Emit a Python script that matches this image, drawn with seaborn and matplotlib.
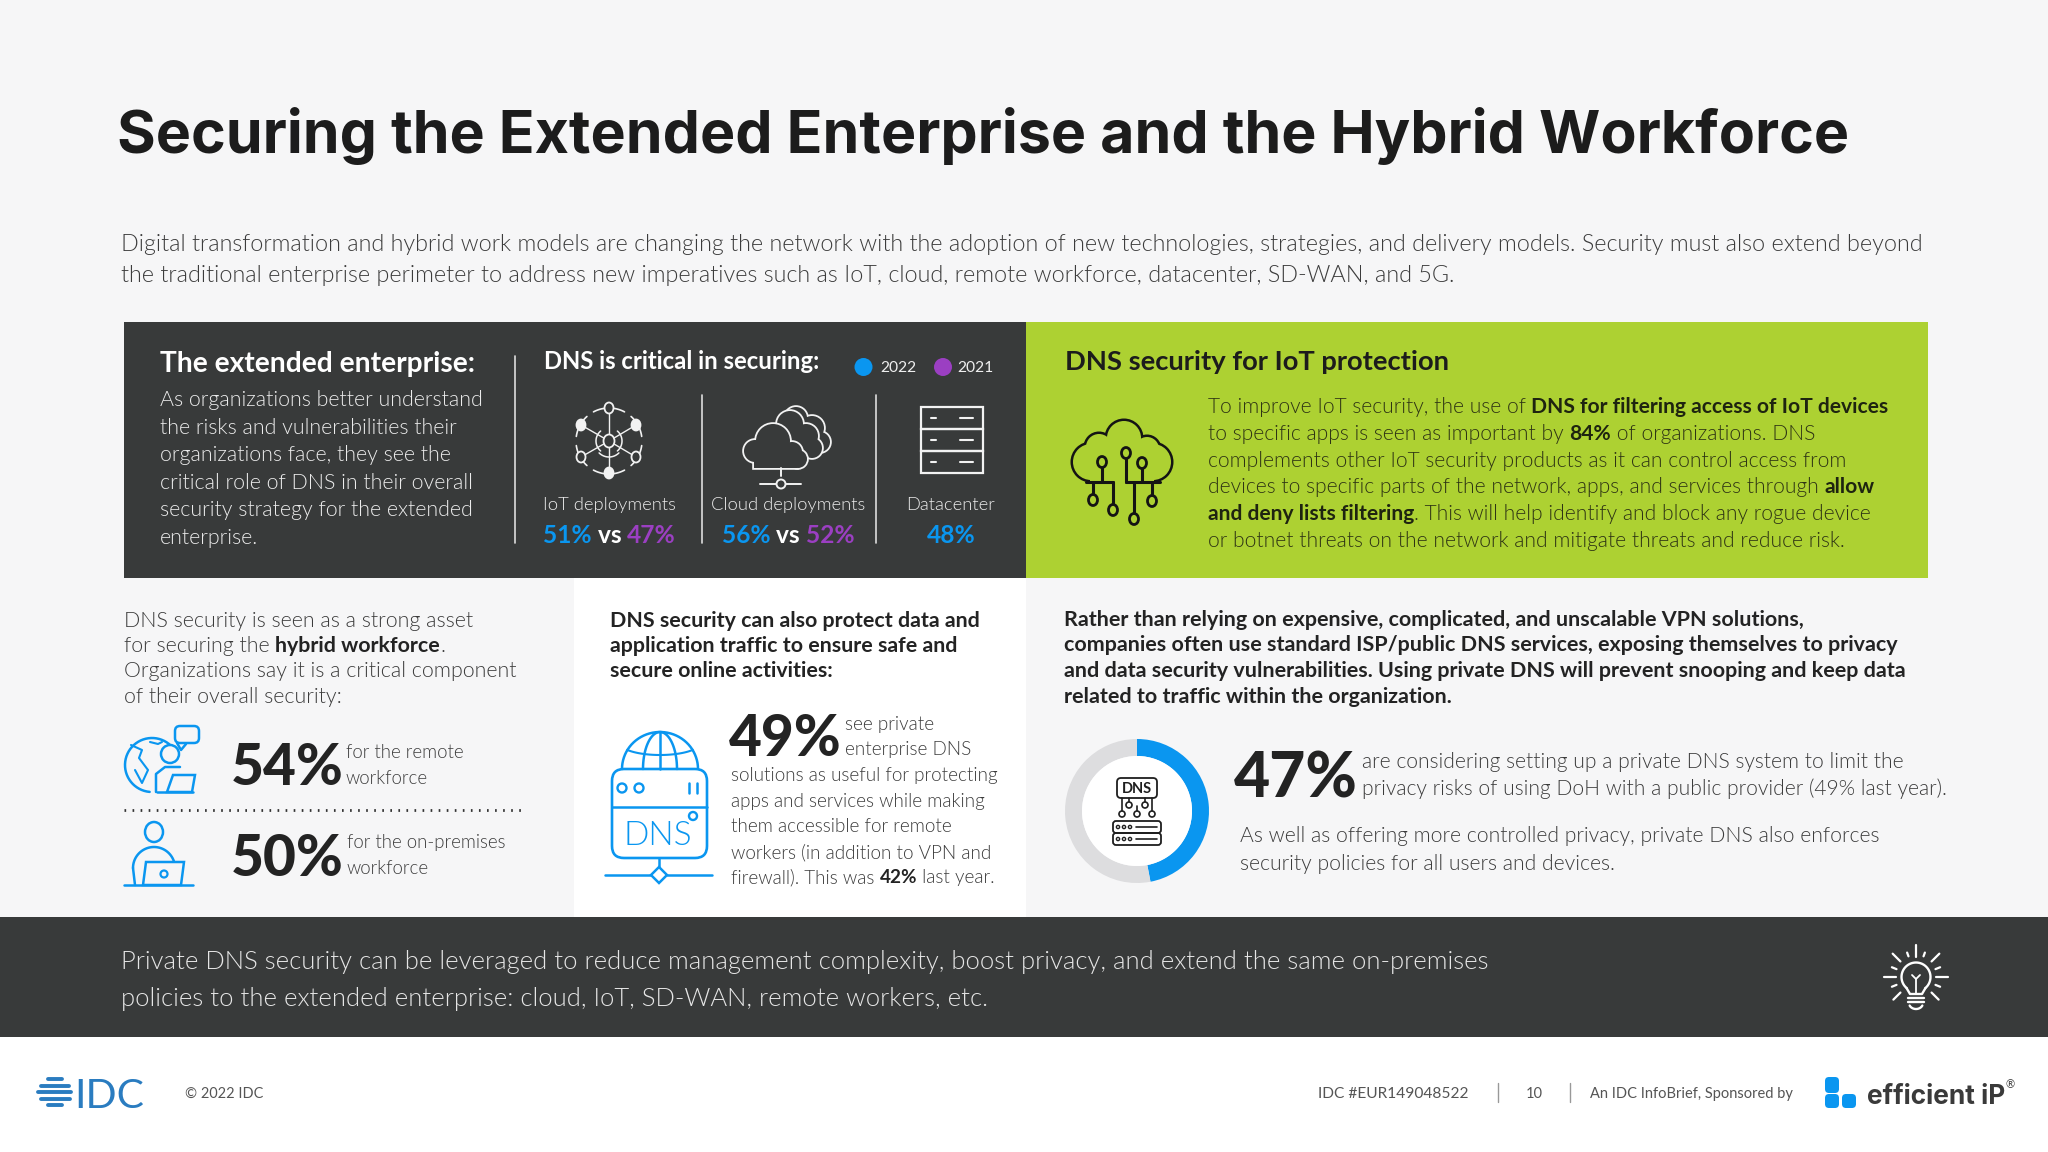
import numpy as np
import seaborn as sns
import matplotlib
matplotlib.use('Agg')
import matplotlib.pyplot as plt
from matplotlib.patches import Circle, Rectangle, FancyBboxPatch, Polygon, Ellipse

W, H = 2048, 1152

# --- Data ---
TITLE = 'Securing the Extended Enterprise and the Hybrid Workforce'
INTRO = ['Digital transformation and hybrid work models are changing the network with the adoption of new technologies, strategies, and delivery models. Security must also extend beyond',
         'the traditional enterprise perimeter to address new imperatives such as IoT, cloud, remote workforce, datacenter, SD-WAN, and 5G.']
ENTERPRISE = ['As organizations better understand', 'the risks and vulnerabilities their', 'organizations face, they see the',
              'critical role of DNS in their overall', 'security strategy for the extended', 'enterprise.']
CATEGORIES = ['IoT deployments', 'Cloud deployments', 'Datacenter']
VALUES_2022 = [51, 56, 48]
VALUES_2021 = [47, 52, None]
HYBRID = ['DNS security is seen as a strong asset', 'for securing the |hybrid workforce|.',
          'Organizations say it is a critical component', 'of their overall security:']
PROTECT = ['DNS security can also protect data and', 'application traffic to ensure safe and', 'secure online activities:']
P49 = ['solutions as useful for protecting', 'apps and services while making', 'them accessible for remote',
       'workers (in addition to VPN and', 'firewall). This was |42%| last year.']
VPN = ['Rather than relying on expensive, complicated, and unscalable VPN solutions,',
       'companies often use standard ISP/public DNS services, exposing themselves to privacy',
       'and data security vulnerabilities. Using private DNS will prevent snooping and keep data',
       'related to traffic within the organization.']
IOT = ['To improve IoT security, the use of |DNS for filtering access of IoT devices|',
       'to specific apps is seen as important by |84%| of organizations. DNS',
       'complements other IoT security products as it can control access from',
       'devices to specific parts of the network, apps, and services through |allow|',
       '|and deny lists filtering|. This will help identify and block any rogue device',
       'or botnet threats on the network and mitigate threats and reduce risk.']
BAND = ['Private DNS security can be leveraged to reduce management complexity, boost privacy, and extend the same on-premises',
        'policies to the extended enterprise: cloud, IoT, SD-WAN, remote workers, etc.']
donut_labels = ['considering', 'other']
donut_values = [47, 53]

BG = '#f6f6f7'
DARK = '#383a3a'
GREEN = '#add132'
BLUE = '#0a96f0'
PURPLE = '#9b3fc2'
INK = '#232323'
GREY = '#3c3c3c'
LIGHT = 300
HEAVY_FONT = ['Inter', 'Lato', 'DejaVu Sans']

sns.set_theme(style='white')
plt.rcParams['font.family'] = ['Lato', 'DejaVu Sans']

fig = plt.figure(figsize=(W / 100, H / 100), dpi=100, facecolor='white')
ax = fig.add_axes([0, 0, 1, 1])
ax.set_xlim(0, W)
ax.set_ylim(H, 0)
ax.axis('off')
renderer = fig.canvas.get_renderer()


def adv(s, size, weight, family=None):
    # advance width incl. spaces at the ends
    a = ax.text(0, 0, 'x' + s + 'x', fontsize=size, fontweight=weight, family=family)
    b = ax.text(0, 0, 'xx', fontsize=size, fontweight=weight, family=family)
    w = a.get_window_extent(renderer).width - b.get_window_extent(renderer).width
    a.remove()
    b.remove()
    return w


def fit(s, width, weight=LIGHT, family=None):
    return 20 * width / adv(s.replace('|', ''), 20, weight, family)


def T(x, y, s, size, color=GREY, weight=LIGHT, ha='left', target=None, family=None):
    return (target or ax).text(x, y, s, fontsize=size, color=color, fontweight=weight, ha=ha, va='baseline', family=family)


def rich(x, y, s, size, color=GREY, bold=INK, weight=LIGHT, bweight='bold'):
    # | toggles bold inside a line
    for i, part in enumerate(s.split('|')):
        if not part:
            continue
        w = bweight if i % 2 else weight
        T(x, y, part, size, bold if i % 2 else color, w)
        x += adv(part, size, w)


def rect(x0, y0, x1, y1, c, z=0):
    ax.add_patch(Rectangle((x0, y0), x1 - x0, y1 - y0, fc=c, ec='none', zorder=z))


def line(xs, ys, c, lw=1.8, target=None, **kw):
    (target or ax).plot(xs, ys, color=c, lw=lw, solid_capstyle='round', zorder=3, **kw)


def ring(x, y, r, c, lw=1.8, fc='none', target=None):
    (target or ax).add_patch(Circle((x, y), r, fc=fc, ec=c, lw=lw, zorder=4))


def arc(cx, cy, rx, ry, a0, a1, c, lw=1.8, target=None):
    t = np.radians(np.linspace(a0, a1, 40))
    line(cx + rx * np.cos(t), cy - ry * np.sin(t), c, lw, target)


def box(x0, y0, x1, y1, c, lw=1.8, pad=6, fc='none', target=None):
    (target or ax).add_patch(FancyBboxPatch((x0 + pad, y0 + pad), x1 - x0 - 2 * pad, y1 - y0 - 2 * pad,
                                            boxstyle=f'round,pad={pad}', fc=fc, ec=c, lw=lw, zorder=4))


def cloud(circles, base, edge, fill, lw=3.4, z=2):
    # outline of a union of circles: stroked shapes with filled copies on top
    x0, y0, x1, y1 = base
    for cx, cy, r in circles:
        ax.add_patch(Circle((cx, cy), r, fc=edge, ec=edge, lw=lw, zorder=z))
    ax.add_patch(Rectangle((x0, y0), x1 - x0, y1 - y0, fc=edge, ec=edge, lw=lw, zorder=z))
    for cx, cy, r in circles:
        ax.add_patch(Circle((cx, cy), r, fc=fill, ec='none', zorder=z + .1))
    ax.add_patch(Rectangle((x0, y0), x1 - x0, y1 - y0, fc=fill, ec='none', zorder=z + .1))


# --- Panels ---
rect(0, 0, W, 1037, BG)
rect(574, 578, 1026, 917, 'white')
rect(124, 322, 1026, 578, DARK)
rect(1026, 322, 1928, 578, GREEN)
rect(0, 917, W, 1037, DARK)

# --- Header ---
T(117, 153, TITLE, fit(TITLE, 1734, 'bold', HEAVY_FONT), '#1c1c1c', 'bold', family=HEAVY_FONT)
s = fit(INTRO[0], 1806)
T(121, 251, INTRO[0], s)
T(121, 282, INTRO[1], s)

# --- Dark panel ---
T(160, 372, 'The extended enterprise:', fit('The extended enterprise:', 315, 'bold'), 'white', 'bold')
s = fit(ENTERPRISE[0], 324)
for i, t in enumerate(ENTERPRISE):
    T(160, 406 + i * 27.6, t, s, '#ececec')
line([515, 515], [356, 543], '#dddddd', 1.2)
line([702, 702], [395, 543], '#dddddd', 1.2)
line([876, 876], [395, 543], '#dddddd', 1.2)
T(544, 369, 'DNS is critical in securing:', fit('DNS is critical in securing:', 276, 'bold'), 'white', 'bold')
s = fit('2022', 36, 'regular')
ax.add_patch(Circle((863.5, 367), 9, fc=BLUE, ec='none'))
T(880, 372, '2022', s, '#eeeeee', 'regular')
ax.add_patch(Circle((943, 367), 9, fc=PURPLE, ec='none'))
T(957, 372, '2021', s, '#eeeeee', 'regular')

s = fit(CATEGORIES[1], 154)
s2 = fit('51% vs 47%', 133, 'bold')
for cx, name, a, b in zip([609.5, 788, 951], CATEGORIES, VALUES_2022, VALUES_2021):
    T(cx, 510, name, s, '#ececec', ha='center')
    if b is None:
        T(cx, 543, f'{a}%', s2, BLUE, 'bold', ha='center')
    else:
        parts = [(f'{a}%', BLUE), (' vs ', 'white'), (f'{b}%', PURPLE)]
        x = cx - sum(adv(p, s2, 'bold') for p, _ in parts) / 2
        for p, c in parts:
            T(x, 543, p, s2, c, 'bold')
            x += adv(p, s2, 'bold')

# IoT icon
c = '#f2f2f2'
cx, cy = 609, 441
for a0, a1 in [(62, 84), (96, 118), (8, 48), (-48, -8), (-84, -62), (-118, -96), (132, 172), (188, 228)]:
    arc(cx, cy, 33, 33, a0, a1, c, 1.2)
for x, y, filled in [(609, 408, False), (609, 473, True), (581, 425, True), (636, 425, True), (581, 457, False), (636, 457, False)]:
    line([cx, x], [cy, y], c, 1.0)
    ax.add_patch(Ellipse((x, y), 9, 11, fc=c if filled else DARK, ec=c, lw=1.3, zorder=4))
ax.add_patch(Ellipse((cx, cy), 11, 13, fc=DARK, ec=c, lw=1.3, zorder=4))
arc(cx, cy, 13, 13, 130, 230, c, 1.1)
arc(cx, cy, 13, 13, -50, 50, c, 1.1)
arc(cx, cy + 2, 14, 14, 225, 315, c, 1.1)

# Cloud deployment icon
cloud([(796, 418, 11), (812, 428, 12), (820, 442, 10)], (786, 420, 816, 450), c, DARK, 2.6, 2)
cloud([(790, 424, 13), (806, 436, 12), (812, 448, 10)], (780, 430, 808, 455), c, DARK, 2.6, 2.3)
cloud([(755, 451, 11), (773, 441, 17), (792, 452, 10), (798, 459, 9)], (754, 450, 797, 468), c, DARK, 2.6, 2.6)
line([781, 781], [468, 476], c, 1.4)
line([760, 801], [484, 484], c, 1.4)
ring(781, 484, 4.5, c, 1.4, DARK)

# Datacenter icon
for y0 in [407, 429, 451]:
    ax.add_patch(Rectangle((921, y0), 62, 22, fc='none', ec=c, lw=1.6))
    line([931, 936], [y0 + 11, y0 + 11], c, 1.5)
    line([960, 973], [y0 + 11, y0 + 11], c, 1.5)

# --- Green panel ---
t = 'DNS security for IoT protection'
T(1065, 370, t, fit(t, 384, 'bold'), '#1c1c1c', 'bold')
s = fit(IOT[2], 638)
for y, t in zip([413, 440, 467, 493, 520, 547], IOT):
    rich(1207.6, y, t, s, '#2e3414', '#1e2410', bweight='bold')

k = '#141414'
cloud([(1091, 462, 18), (1099, 447, 13), (1124, 438, 17), (1147, 449, 12), (1153, 462, 18)], (1090, 445, 1154, 481), k, GREEN, 3.6)
rect(1093, 470, 1152, 486, GREEN, 2.2)
for xs, ys in [([1086, 1113], [482, 482]), ([1126, 1134], [482, 482]), ([1134, 1160], [482, 482]), ([1102, 1102], [467, 482]),
               ([1113, 1113], [482, 505]), ([1093, 1093], [482, 495]), ([1126, 1126], [458, 482]),
               ([1134, 1134], [482, 514]), ([1142, 1142], [468, 482]), ([1152, 1152], [482, 496])]:
    line(xs, ys, k, 2.2)
for x, y in [(1102, 462), (1126, 453), (1142, 463), (1093, 500), (1113, 510), (1134, 519), (1152, 501)]:
    ax.add_patch(Ellipse((x, y), 9, 11, fc=GREEN, ec=k, lw=2, zorder=4))

# --- Hybrid workforce column ---
s = fit(HYBRID[2], 392)
for y, t in zip([627, 652, 677, 703], HYBRID):
    rich(124, y, t, s)
size_big = fit('54%', 113, 'black')
s = fit('for the remote', 118)
T(231, 785, '54%', size_big, INK, 'black')
T(346, 758, 'for the remote', s)
T(346, 784, 'workforce', s)
ax.plot([124, 522], [810, 810], color='#333333', lw=2, ls=(0, (0.6, 2.3)))
T(231, 876, '50%', size_big, INK, 'black')
T(347, 848, 'for the on-premises', s)
T(347, 874, 'workforce', s)

# globe + person icon
b = BLUE
arc(152, 765, 27, 27, 40, 265, b)
line([131, 142, 139, 148, 142, 135], [745, 750, 758, 770, 783, 770], b, 1.5)
line([150, 158, 162], [742, 744, 742], b, 1.5)
box(175, 726, 199, 743, b, pad=5)
line([177, 181, 186], [743, 750, 744], b)
ring(170, 754, 9, b, 1.8, BG)
line([156, 156, 165, 180], [792, 774, 767, 767], b)
line([157, 193], [792, 792], b)
ax.add_patch(Polygon([[173, 775], [195, 775], [192, 792], [167, 792]], fc=BG, ec=b, lw=1.8, zorder=4))

# person at laptop icon
ax.add_patch(Ellipse((154, 832), 18, 20, fc='none', ec=b, lw=1.8))
line([124, 193], [885, 885], b)
arc(154, 868, 21, 21, 0, 180, b)
line([133, 135], [868, 885], b)
ax.add_patch(Polygon([[146, 862], [184, 862], [181, 885], [143, 885]], fc=BG, ec=b, lw=1.8, zorder=4))
ring(164, 874, 3.5, b, 1.6)

# --- Private DNS column ---
s = fit(PROTECT[0], 370, 'bold')
for y, t in zip([627, 652, 677], PROTECT):
    T(610, y, t, s, INK, 'bold')
T(729, 756, '49%', size_big, INK, 'black')
s = fit(P49[0], 268)
T(845, 730, 'see private', s)
T(845, 755, 'enterprise DNS', s)
for y, t in zip([781, 807, 832, 858, 883], P49):
    rich(731, y, t, s)

# DNS box icon
box(612, 769, 707, 858, b, 1.9, pad=12)
line([612, 707], [807, 807], b)
arc(660, 769, 38, 37, 0, 180, b)
arc(660, 769, 17, 37, 0, 180, b)
line([660, 660], [732, 769], b)
arc(660, 743, 40, 12, 215, 325, b, 1.5)
ring(622, 788, 4.5, b, 1.7)
ring(639, 788, 4.5, b, 1.7)
line([689, 689], [783, 793], b)
line([697, 697], [783, 793], b)
ring(693, 816, 4, b, 1.7)
T(658, 845, 'DNS', 24, b, LIGHT, ha='center')
line([659, 659], [858, 868], b)
line([605, 651], [875, 875], b)
line([667, 712], [875, 875], b)
ax.add_patch(Polygon([[659, 867], [667, 875], [659, 883], [651, 875]], fc='white', ec=b, lw=1.8, zorder=4))

# --- VPN column ---
s = fit(VPN[2], 840, 'bold')
for y, t in zip([626, 651, 677, 703], VPN):
    T(1064, y, t, s, INK, 'bold')
T(1234, 798, '47%', fit('47%', 124, 'black'), INK, 'black')
s = fit('privacy risks of using DoH with a public provider (49% last year).', 582)
T(1362, 768, 'are considering setting up a private DNS system to limit the', s)
T(1362, 795, 'privacy risks of using DoH with a public provider (49% last year).', s)
s = fit('As well as offering more controlled privacy, private DNS also enforces', 640)
T(1240, 842, 'As well as offering more controlled privacy, private DNS also enforces', s)
T(1240, 870, 'security policies for all users and devices.', s)

# --- Bottom band ---
s = fit(BAND[0], 1360)
T(121, 969, BAND[0], s, '#e6e6e6')
T(121, 1006, BAND[1], s, '#e6e6e6')
c = 'white'
cx, cy = 1916, 977
arc(cx, cy, 14.5, 14.5, -50, 230, c, 1.7)
line([cx - 9.5, cx - 6, cx + 6, cx + 9.5], [cy + 11, cy + 17, cy + 17, cy + 11], c, 1.7)
line([cx, cx, cx - 4], [cy + 17, cy + 2, cy - 2], c, 1.3)
line([cx, cx + 4], [cy + 2, cy - 2], c, 1.3)
line([cx - 8, cx + 8], [cy + 21, cy + 21], c, 1.7)
line([cx - 8, cx + 8], [cy + 25, cy + 25], c, 1.7)
arc(cx, cy + 26, 7, 6, 205, 335, c, 1.7)
for a, r0, r1 in [(90, 20, 32), (70, 22, 26), (110, 22, 26), (45, 22, 33), (135, 22, 33), (22, 21, 26), (158, 21, 26),
                  (0, 20, 32), (180, 20, 32), (-22, 21, 26), (202, 21, 26), (-45, 22, 32), (225, 22, 32)]:
    ca, sa = np.cos(np.radians(a)), np.sin(np.radians(a))
    line([cx + r0 * ca, cx + r1 * ca], [cy - r0 * sa, cy - r1 * sa], c, 1.6)

# --- Footer ---
idc = '#2a7cc0'
for y, x0, x1 in [(1079, 48, 62), (1086, 41, 69), (1092, 38, 71), (1099, 41, 70), (1105, 48, 62)]:
    line([x0, x1], [y, y], idc, 2.8)
T(74, 1108, 'IDC', fit('IDC', 70, 'regular'), idc, 'regular')
T(185, 1098, '© 2022 IDC', fit('© 2022 IDC', 78, 'regular'), '#555555', 'regular')
T(1318, 1098, 'IDC #EUR149048522', fit('IDC #EUR149048522', 151, 'regular'), '#555555', 'regular')
T(1534, 1098, '10', 10.5, '#555555', 'regular', ha='center')
T(1590, 1098, 'An IDC InfoBrief, Sponsored by', fit('An IDC InfoBrief, Sponsored by', 203, 'regular'), '#555555', 'regular')
line([1498, 1498], [1083, 1102], '#999999', 1)
line([1570, 1570], [1083, 1102], '#999999', 1)
for x0, y0, x1, y1 in [(1825, 1077, 1839, 1093), (1825, 1094, 1839, 1108), (1842, 1094, 1856, 1108)]:
    ax.add_patch(FancyBboxPatch((x0 + 4, y0 + 4), x1 - x0 - 8, y1 - y0 - 8, boxstyle='round,pad=4', fc=BLUE, ec='none'))
T(1867, 1104, 'efficient iP', fit('efficient iP', 138, 'bold', HEAVY_FONT), '#3a3a3a', 'bold', family=HEAVY_FONT)
T(2005, 1088, '®', 8, '#3a3a3a', 'regular')

# --- Donut ---
colors = sns.color_palette([BLUE, '#dddddf'])
R = 72
dax = fig.add_axes([(1137 - R) / W, 1 - (811 + R) / H, 2 * R / W, 2 * R / H], zorder=2)
dax.pie(donut_values, colors=colors, startangle=90, counterclock=False, radius=1,
        wedgeprops={'width': 17 / R, 'linewidth': 0})
dax.add_patch(Circle((0, 0), 55 / R, fc='white', ec='none'))
dax.set_xlim(-1, 1)
dax.set_ylim(-1, 1)

# DNS server icon sits on top of the donut
over = fig.add_axes([0, 0, 1, 1], zorder=3)
over.set_xlim(0, W)
over.set_ylim(H, 0)
over.axis('off')
over.patch.set_alpha(0)
k = '#1e1e1e'
box(1117, 778, 1157, 798, k, 1.3, pad=4, target=over)
T(1137, 793, 'DNS', 10.5, k, 'bold', ha='center', target=over)
for x, y in [(1122, 814), (1129, 805), (1137, 814), (1145, 805), (1152, 814)]:
    ring(x, y, 3, k, 1.2, 'white', target=over)
line([1122, 1122], [798, 811], k, 1.2, over)
line([1152, 1152], [798, 811], k, 1.2, over)
line([1129, 1129], [798, 802], k, 1.2, over)
line([1145, 1145], [798, 802], k, 1.2, over)
line([1137, 1137], [806, 811], k, 1.2, over)
for y0 in [821, 833]:
    box(1113, y0, 1161, y0 + 12, k, 1.3, pad=3, target=over)
    for x in [1118, 1124, 1130]:
        ring(x, y0 + 6, 1.6, k, 1, target=over)
    line([1136, 1157], [y0 + 6, y0 + 6], k, 1.2, over)

fig.savefig('out.png', dpi=100, facecolor=fig.get_facecolor())
